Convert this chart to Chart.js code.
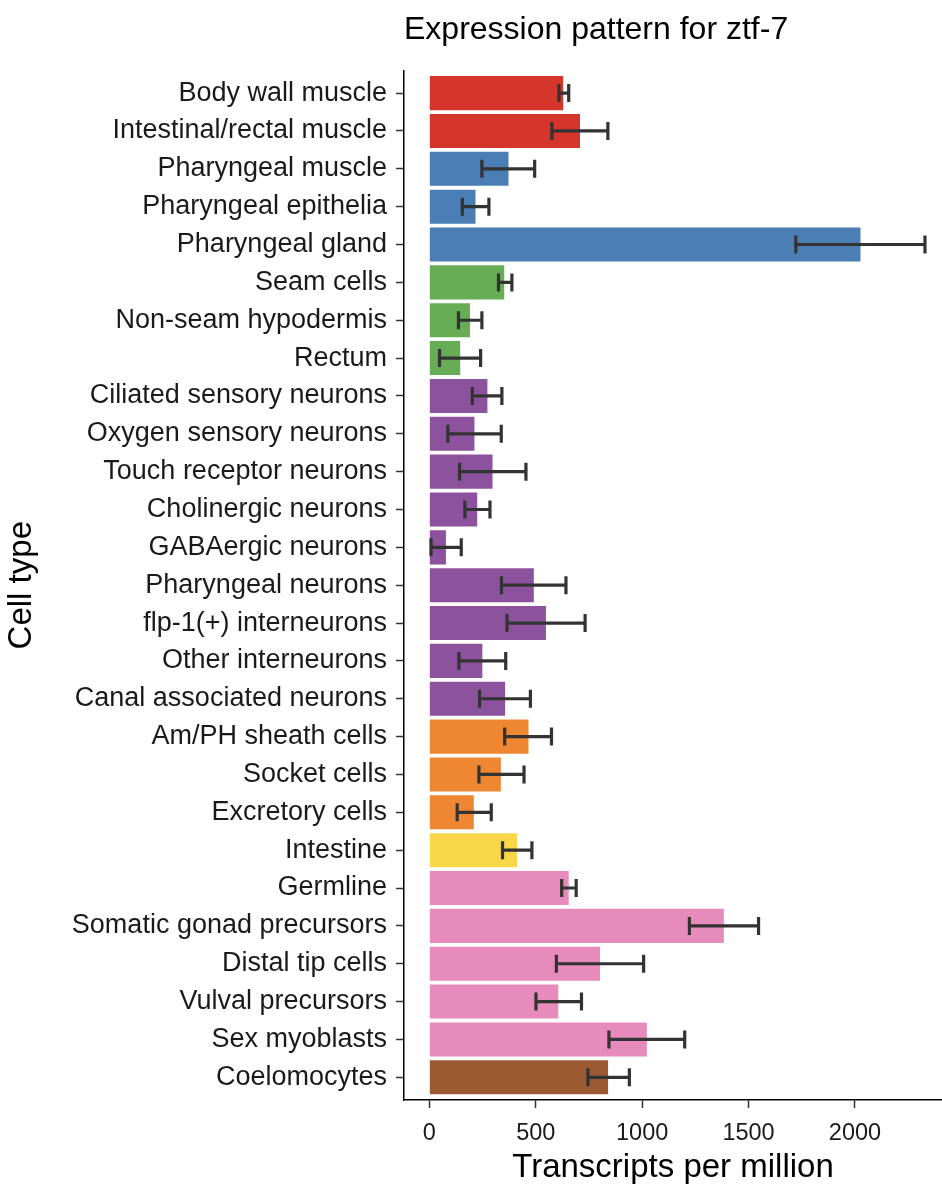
<!DOCTYPE html>
<html>
<head>
<meta charset="utf-8">
<title>Expression pattern for ztf-7</title>
<script src="https://cdn.jsdelivr.net/npm/chart.js@4.4.1/dist/chart.umd.min.js"></script>
<style>
  html, body { margin: 0; padding: 0; background: #fff; }
  #wrap { width: 942px; height: 1196px; }
</style>
</head>
<body>
<div id="wrap"><canvas id="grafico" width="942" height="1196"></canvas></div>
<script>
const cellTypes = [
  'Body wall muscle', 'Intestinal/rectal muscle', 'Pharyngeal muscle', 'Pharyngeal epithelia',
  'Pharyngeal gland', 'Seam cells', 'Non-seam hypodermis', 'Rectum',
  'Ciliated sensory neurons', 'Oxygen sensory neurons', 'Touch receptor neurons',
  'Cholinergic neurons', 'GABAergic neurons', 'Pharyngeal neurons', 'flp-1(+) interneurons',
  'Other interneurons', 'Canal associated neurons', 'Am/PH sheath cells', 'Socket cells',
  'Excretory cells', 'Intestine', 'Germline', 'Somatic gonad precursors', 'Distal tip cells',
  'Vulval precursors', 'Sex myoblasts', 'Coelomocytes'
];
const tissueGroup = [
  'muscle', 'muscle', 'pharynx', 'pharynx', 'pharynx', 'hypodermis', 'hypodermis', 'hypodermis',
  'neuron', 'neuron', 'neuron', 'neuron', 'neuron', 'neuron', 'neuron', 'neuron', 'neuron',
  'glia', 'glia', 'glia', 'intestine', 'gonad', 'gonad', 'gonad', 'gonad', 'gonad', 'coelomocyte'
];
const tpm = [629, 708, 372, 217, 2026, 352, 191, 145, 273, 212, 297, 225, 78, 491, 548, 249, 356, 466, 336, 209, 412, 655, 1384, 802, 606, 1022, 840];
const errLow = [609, 576, 247, 155, 1722, 325, 137, 48, 202, 87, 142, 167, 8, 339, 365, 139, 236, 354, 233, 131, 344, 622, 1222, 597, 501, 844, 745];
const errHigh = [655, 839, 495, 280, 2329, 388, 247, 241, 341, 338, 454, 285, 150, 642, 732, 359, 475, 574, 445, 291, 482, 690, 1547, 1007, 715, 1200, 940];
const xTicks = [0, 500, 1000, 1500, 2000];

const groupColors = {
  muscle: '#d6352c', pharynx: '#4a7eb5', hypodermis: '#66ad55', neuron: '#8d529e',
  glia: '#ef8631', intestine: '#f9d748', gonad: '#e78abc', coelomocyte: '#9b5a32'
};

const fontFam = '"Liberation Sans", Arial, Helvetica, sans-serif';

// barras de erro desenhadas por cima das barras
const errorBars = {
  id: 'errorBars',
  afterDatasetsDraw(chart) {
    const { ctx, scales: { x, y } } = chart;
    ctx.save();
    ctx.strokeStyle = '#333333';
    ctx.lineWidth = 3.2;
    ctx.lineCap = 'butt';
    for (let i = 0; i < tpm.length; i++) {
      const py = y.getPixelForValue(i);
      const x1 = x.getPixelForValue(errLow[i]);
      const x2 = x.getPixelForValue(errHigh[i]);
      ctx.beginPath();
      ctx.moveTo(x1, py); ctx.lineTo(x2, py);
      ctx.moveTo(x1, py - 9); ctx.lineTo(x1, py + 9);
      ctx.moveTo(x2, py - 9); ctx.lineTo(x2, py + 9);
      ctx.stroke();
    }
    ctx.restore();
  }
};

const ctx = document.getElementById('grafico');
new Chart(ctx, {
  type: 'bar',
  data: {
    datasets: [{
      data: tpm.map((v, i) => ({ x: v, y: i })),
      backgroundColor: tissueGroup.map(g => groupColors[g]),
      borderWidth: 0,
      barPercentage: 0.9,
      categoryPercentage: 1
    }]
  },
  options: {
    indexAxis: 'y',
    responsive: false,
    animation: false,
    layout: { padding: 0 },
    plugins: {
      legend: { display: false },
      tooltip: { enabled: false },
      title: {
        display: true,
        text: 'Expression pattern for ztf-7',
        align: 'start',
        fullSize: false,
        color: '#000',
        font: { family: fontFam, size: 32, weight: 'normal' },
        padding: { top: 11, bottom: 21 }
      }
    },
    scales: {
      x: {
        type: 'linear',
        min: -119,
        max: 2409,
        afterBuildTicks: (scale) => { scale.ticks = xTicks.map(v => ({ value: v })); },
        afterFit: (scale) => { scale.height = 96; },
        grid: { drawOnChartArea: false, drawTicks: true, tickLength: 8, color: '#333', tickWidth: 1.5 },
        border: { display: true, color: '#000', width: 1.5 },
        ticks: {
          color: '#1a1a1a', padding: 11, maxRotation: 0,
          font: { family: fontFam, size: 23.5 },
          callback: (v) => String(v)
        },
        title: {
          display: true,
          text: 'Transcripts per million',
          color: '#000',
          font: { family: fontFam, size: 33 },
          padding: { top: 0, bottom: 8 }
        }
      },
      y: {
        type: 'linear',
        reverse: true,
        offset: false,
        min: -0.6,
        max: cellTypes.length - 0.4,
        afterBuildTicks: (scale) => { scale.ticks = cellTypes.map((c, i) => ({ value: i })); },
        afterFit: (scale) => { scale.width = 404; },
        grid: { offset: false, drawOnChartArea: false, drawTicks: true, tickLength: 8, color: '#333', tickWidth: 1.5 },
        border: { display: true, color: '#000', width: 1.5 },
        ticks: {
          color: '#1a1a1a',
          padding: 9,
          autoSkip: false,
          font: { family: fontFam, size: 27 },
          callback: (v) => cellTypes[v]
        },
        title: {
          display: true,
          text: 'Cell type',
          color: '#000',
          font: { family: fontFam, size: 33 },
          padding: { top: 2, bottom: 0 }
        }
      }
    }
  },
  plugins: [errorBars]
});
</script>
</body>
</html>
